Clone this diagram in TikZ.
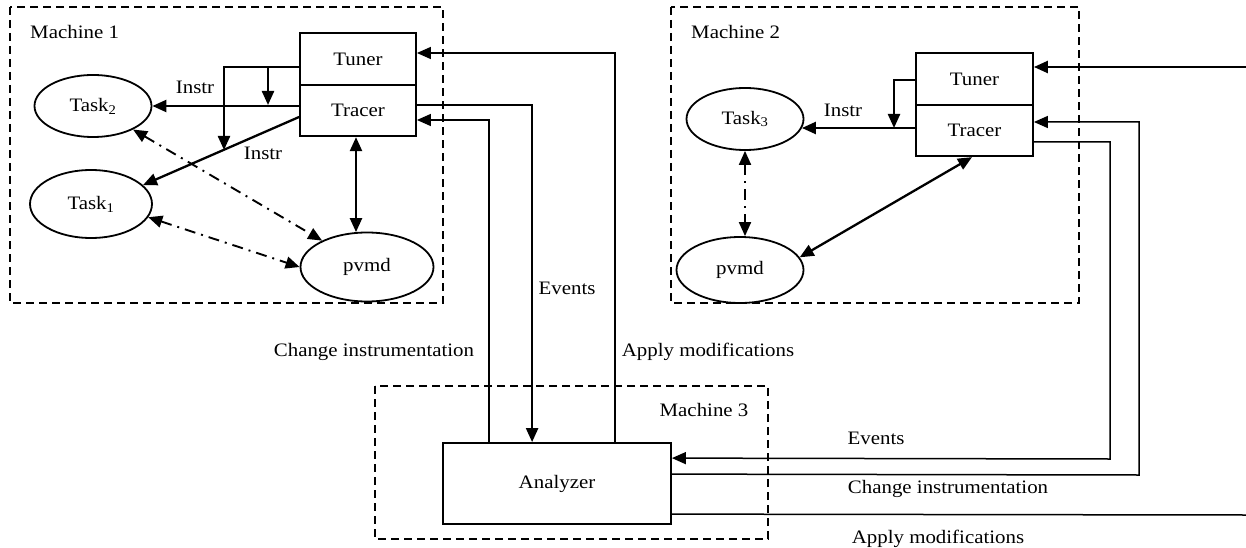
\documentclass[tikz,border=0pt]{standalone}
\usepackage{fontspec}
\setmainfont{Liberation Serif}[FakeStretch=1.1]
\usetikzlibrary{shapes.geometric,arrows.meta,calc}

\tikzset{
  every node/.style={font=\fontsize{19}{22}\selectfont},
  tip/.tip={Triangle[length=14pt,width=12pt]},
  machine/.style={draw, line width=1.6pt, dash pattern=on 8pt off 5pt},
  unit/.style={draw, line width=1.8pt, minimum width=116pt, minimum height=51.5pt, inner sep=0pt},
  proc/.style={draw, ellipse, line width=1.8pt, inner sep=0pt},
  lbl/.style={inner sep=0pt},
  biarr/.style={line width=2.3pt, tip-tip},
  dotarr/.style={line width=1.9pt, dash pattern=on 11pt off 6pt on 2pt off 6pt, tip-tip},
  wire/.style={line width=1.5pt},
  wirearr/.style={line width=1.5pt, -tip},
  boldarr/.style={line width=2.3pt, -tip}
}

\begin{document}
\begin{tikzpicture}[x=1pt, y=-1pt]
\useasboundingbox (0,0) rectangle (1246,548);

% machine frames
\draw[machine] (10,7) rectangle (443,303);
\draw[machine] (671,7) rectangle (1079,303);
\draw[machine] (375,386) rectangle (768,539);
\node[lbl, anchor=west] (m1) at (30,32) {Machine 1};
\node[lbl, anchor=west] (m2) at (691,32) {Machine 2};
\node[lbl] (m3) at (704,410) {Machine 3};

% Machine 1
\node[unit] (tuner1) at (358,59) {Tuner};
\node[unit] (tracer1) at (358,110.5) {Tracer};
\node[proc, minimum width=117pt, minimum height=62pt] (task2) at (93,106) {Task\textsubscript{2}};
\node[proc, minimum width=122pt, minimum height=68pt] (task1) at (91,204) {Task\textsubscript{1}};
\node[proc, minimum width=133pt, minimum height=69pt] (pvmd1) at (367,267) {pvmd};

% Machine 2
\node[unit, minimum width=117pt] (tuner2) at (974.5,79) {Tuner};
\node[unit, minimum width=117pt] (tracer2) at (974.5,130.5) {Tracer};
\node[proc, minimum width=117pt, minimum height=62pt] (task3) at (745,119) {Task\textsubscript{3}};
\node[proc, minimum width=127pt, minimum height=66pt] (pvmd2) at (740,270) {pvmd};

% Machine 3
\node[draw, line width=1.8pt, minimum width=228pt, minimum height=81pt, inner sep=0pt] (analyzer) at (557,483.5) {Analyzer};

% instrumentation inside machine 1
\coordinate (t1a) at ($(tuner1.west)+(0,8)$);
\coordinate (t1b) at (224,150);
\coordinate (t1c) at (268,67);
\coordinate (t1d) at (268,105);
\draw[boldarr] (t1a) -| (t1b);
\draw[boldarr] (t1c) -- (t1d);
\draw[boldarr] ($(tracer1.west)+(0,-5.5)$) -- (tracer1.west |- task2.east) -- (task2.east);
\draw[boldarr] ($(tracer1.west)+(0,6.5)$) -- (task1.20);
\node[lbl] (instrA) at (195,87) {Instr};
\node[lbl] (instrB) at (263,153) {Instr};
\draw[biarr] ($(tracer1.south)+(-2,0)$) -- ($(tracer1.south |- pvmd1.north)+(-2,0.5)$);
\draw[dotarr] (task2) -- (pvmd1);
\draw[dotarr] (task1.-13) -- (pvmd1.west);

% instrumentation inside machine 2
\coordinate (t2a) at ($(tuner2.west)+(0,1)$);
\coordinate (t2b) at (894,128);
\draw[boldarr] (t2a) -| (t2b);
\draw[boldarr] ($(tracer2.west)+(0,-2.5)$) -- ($(task3.east)+(-2.5,9)$);
\node[lbl] (instrC) at (843,110) {Instr};
\draw[dotarr] (task3.south) -- (task3.south |- pvmd2.north);
\draw[biarr] ($(tracer2.south)+(-2.5,0)$) -- (pvmd2.12);

% links between machine 1 and the analyzer
\draw[wirearr] ($(analyzer.north west)+(173,0)$) |- ($(tuner1.east)+(0,-6)$);
\draw[boldarr] ($(tracer1.east)+(0,-5.5)$) -| ($(analyzer.north west)+(90,0)$);
\draw[wirearr] ($(analyzer.north west)+(47,0)$) |- ($(tracer1.east)+(0,9.5)$);
\node[lbl] (evA) at (567,288) {Events};
\node[lbl] (ciA) at (374,352) {Change instrumentation};
\node[lbl] (amA) at (708,352) {Apply modifications};

% links between machine 2 and the analyzer
\coordinate (evcorner) at (1110,459);
\coordinate (cicorner) at (1139,475);
\coordinate (amend) at (1246,515);
\coordinate (tuend) at (1246,67);
\draw[wirearr] ($(tracer2.east)+(0,11.5)$) -| (evcorner) -- ($(analyzer.north east)+(0,16)$);
\draw[wirearr] ($(analyzer.north east)+(0,32)$) -- (cicorner) |- ($(tracer2.east)+(0,-8.5)$);
\draw[wire] ($(analyzer.north east)+(0,72)$) -- (amend);
\draw[boldarr] (tuend) -- ($(tuner2.east)+(0,-12)$);
\node[lbl] (evB) at (876,438) {Events};
\node[lbl] (ciB) at (948,489) {Change instrumentation};
\node[lbl] (amB) at (938,539) {Apply modifications};
\end{tikzpicture}
\end{document}
